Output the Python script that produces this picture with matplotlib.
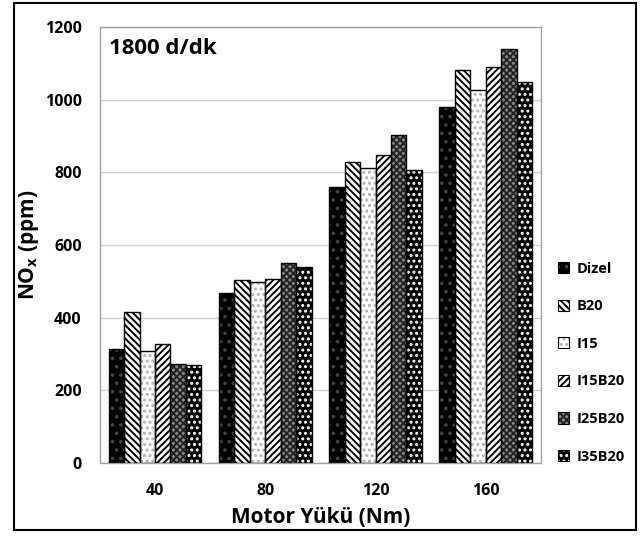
import matplotlib
matplotlib.use('Agg')
import matplotlib.pyplot as plt
import numpy as np
from matplotlib.patches import Rectangle
from matplotlib.legend_handler import HandlerTuple

plt.rcParams['font.family'] = ['Open Sans', 'DejaVu Sans']
plt.rcParams['font.weight'] = 'bold'
plt.rcParams['hatch.linewidth'] = 1.4

# data
loads = ['40', '80', '120', '160']
fuels = ['Dizel', 'B20', 'I15', 'I15B20', 'I25B20', 'I35B20']
dizel = [314, 468, 760, 980]
b20 = [415, 504, 828, 1082]
i15 = [308, 498, 812, 1027]
i15b20 = [327, 506, 848, 1090]
i25b20 = [272, 550, 903, 1140]
i35b20 = [270, 540, 806, 1049]
values = [dizel, b20, i15, i15b20, i25b20, i35b20]

# face colour, hatch, hatch colour
styles = [('black', '..', '#444444'),
          ('white', '\\\\\\\\\\', 'black'),
          ('white', '...', '#b0b0b0'),
          ('white', '/////', 'black'),
          ('#8a8a8a', 'xxxxx', '#222222'),
          ('black', '...', 'white')]

fig = plt.figure(figsize=(6.44, 5.36), dpi=100)
ax = fig.add_axes([0.155, 0.136, 0.685, 0.814])

x = np.arange(len(loads))
w = 0.14
handles = []
for i, (vals, (fc, h, hc)) in enumerate(zip(values, styles)):
    pos = x + (i - 2.5) * w
    ax.bar(pos, vals, w, color=fc, edgecolor='none', zorder=2)
    ax.bar(pos, vals, w, color='none', edgecolor=hc, hatch=h, linewidth=0, zorder=3)
    ax.bar(pos, vals, w, color='none', edgecolor='black', linewidth=1.0, zorder=4)
    # legend proxy: fill + hatch + outline
    handles.append((Rectangle((0, 0), 1, 1, facecolor=fc, edgecolor='none'),
                    Rectangle((0, 0), 1, 1, facecolor='none', hatch=h, edgecolor=hc, linewidth=0),
                    Rectangle((0, 0), 1, 1, facecolor='none', edgecolor='black', linewidth=0.8)))

ax.set_ylim(0, 1200)
ax.set_xlim(-0.5, 3.5)
ax.set_yticks(np.arange(0, 1201, 200))
ax.set_xticks(x)
ax.set_xticklabels(loads)
ax.tick_params(axis='y', length=0, labelsize=11.5, pad=13)
ax.tick_params(axis='x', length=0, labelsize=11.5, pad=14)
ax.grid(axis='y', color='#d0d0d0', linewidth=1.0, zorder=0)
for s in ax.spines.values():
    s.set_color('#a0a0a0')
    s.set_linewidth(1.0)

ax.set_ylabel('NO$_\\mathregular{x}$ (ppm)', fontsize=15, fontweight='bold')
ax.yaxis.set_label_coords(-0.133, 0.5)
ax.set_xlabel('Motor Yükü (Nm)', fontsize=15, fontweight='bold', labelpad=6)
ax.text(0.02, 0.975, '1800 d/dk', transform=ax.transAxes, fontsize=16,
        fontweight='bold', va='top', ha='left')

fig.legend(handles, fuels, loc='upper left', bbox_to_anchor=(0.866, 0.512),
           frameon=False, fontsize=10.5, handlelength=0.8, handleheight=0.8,
           handletextpad=0.5, labelspacing=1.62, borderpad=0, borderaxespad=0,
           handler_map={tuple: HandlerTuple(ndivide=1, pad=0)})

fig.patches.append(Rectangle((0.022, 0.011), 0.966, 0.983, transform=fig.transFigure,
                             fill=False, edgecolor='black', linewidth=1.5))

fig.savefig('out.png', dpi=100)
